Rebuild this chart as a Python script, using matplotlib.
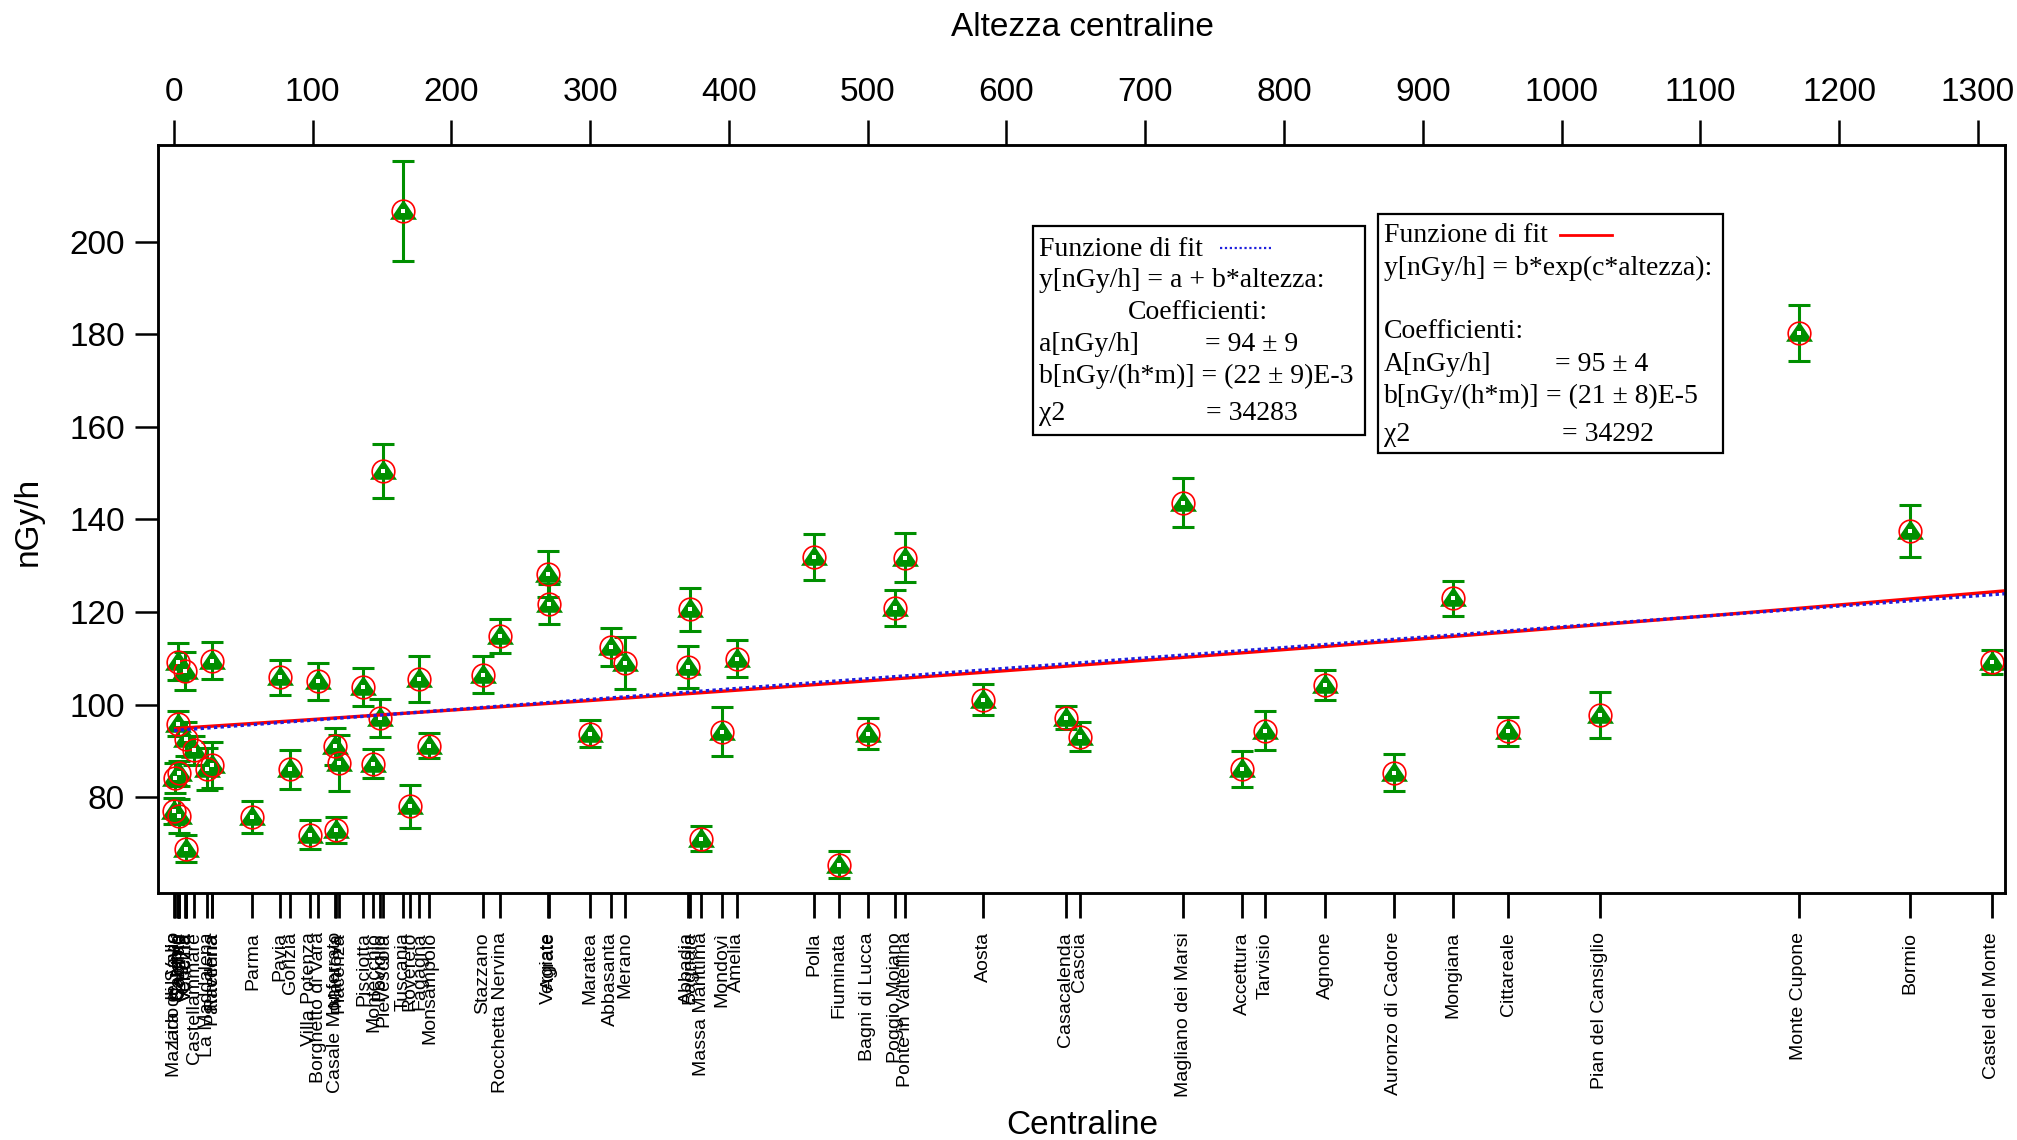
#!/usr/bin/env python3

"""
Dose rate (nGy/h) measured at each station versus station altitude,
with the linear and exponential fits.
"""

import numpy as np
import matplotlib.pyplot as plt
from matplotlib.patches import Rectangle

plt.rcParams['font.family'] = ['Liberation Sans', 'DejaVu Sans']

# station, altitude [m], dose rate [nGy/h], error [nGy/h]
names = [
    'Mazara del Vallo', 'Lido di Savio', 'Catania', 'Salerno', 'Pescara',
    'Cagliari', 'Cecina', 'Trapani', 'Venezia', 'Castellammare',
    'La Maddalena', 'Ravenna', 'Pantelleria',
    'Parma', 'Pavia', 'Gorizia', 'Villa Potenza', 'Borghetto di Vara',
    'Casale Monferrato', 'Mantova', 'Piacenza', 'Pisciotta', 'Montecchio',
    'Poviglio', 'Pievescola', 'Tuscania', 'Rovereto', 'Fagagna',
    'Monsampolo', 'Stazzano', 'Rocchetta Nervina', 'Vergiate', 'Agrate',
    'Maratea', 'Abbasanta', 'Merano', 'Abbadia', 'Bagnaia',
    'Massa Marittima', 'Mondovì', 'Amelia', 'Polla', 'Fiuminata',
    'Bagni di Lucca', 'Poggio Moiano', 'Ponte in Valtellina', 'Aosta',
    'Casacalenda', 'Cascia', 'Magliano dei Marsi', 'Accettura', 'Tarvisio',
    'Agnone', 'Auronzo di Cadore', 'Mongiana', 'Cittareale',
    'Pian del Cansiglio', 'Monte Cupone', 'Bormio', 'Castel del Monte',
]
alt_m = [
    0.2, 0.9, 2.9, 3.3, 4.0, 4.0, 8.1, 8.9, 8.9, 14.8, 24.2, 27.4, 27.8,
    56.7, 76.6, 83.8, 98.0, 104.2, 116.3, 116.8, 119.2, 136.7, 143.9,
    148.7, 151.1, 165.5, 170.1, 177.0, 184.2, 222.7, 235.2, 270.0, 270.5,
    300.1, 315.0, 324.8, 370.2, 371.7, 380.1, 395.0, 405.8, 461.0, 479.0,
    500.0, 520.0, 527.0, 583.2, 642.6, 652.8, 727.5, 769.7, 786.5, 829.8,
    879.2, 921.8, 961.6, 1027.5, 1171.0, 1251.0, 1310.0,
]
dose = [
    77.0, 84.2, 95.9, 109.3, 85.2, 75.9, 107.3, 92.6, 68.9, 90.1, 86.1,
    109.5, 86.9,
    75.7, 105.9, 86.0, 71.9, 105.0, 91.0, 72.9, 87.4, 103.8, 87.2, 97.1,
    150.5, 206.6, 78.0, 105.6, 91.1, 106.5, 114.8, 128.2, 121.7, 93.7,
    112.4, 109.0, 108.1, 120.6, 71.0, 94.1, 109.9, 131.9, 65.4, 93.7,
    120.9, 131.7, 101.1, 97.2, 93.1, 143.6, 86.1, 94.4, 104.2, 85.3,
    123.0, 94.2, 97.8, 180.3, 137.5, 109.2,
]
dose_err = [
    2.9, 3.2, 2.7, 4.0, 2.7, 3.6, 4.1, 3.6, 2.9, 3.2, 4.5, 4.0, 5.0,
    3.4, 3.8, 4.2, 3.1, 4.0, 4.0, 2.9, 6.0, 4.1, 3.1, 4.2, 5.8, 10.8,
    4.6, 5.0, 2.7, 3.9, 3.7, 5.0, 4.3, 2.9, 4.1, 5.6, 4.5, 4.6, 2.7,
    5.3, 4.0, 5.0, 2.9, 3.4, 3.9, 5.3, 3.4, 2.5, 3.2, 5.3, 3.9, 4.2,
    3.2, 4.0, 3.8, 3.2, 5.0, 6.0, 5.6, 2.6,
]

# fit results (rounded values in the boxes)
LIN_A, LIN_B = 94.4, 0.0224
EXP_A, EXP_C = 94.8, 0.000207

GREEN = '#008f00'
W, H = 2017, 1140


def fx(px):
    return px / W


def fy(py):
    return 1 - py / H


def draw_points(ax, x, y, yerr):
    ax.errorbar(x, y, yerr=yerr, fmt='none', ecolor=GREEN,
                elinewidth=2.2, capsize=8.2, capthick=2.2, zorder=3)
    tri = [(0, 0.867), (-1, -0.615), (1, -0.615), (0, 0.867)]
    ax.plot(x, y, linestyle='none', marker=tri, ms=19.4,
            color=GREEN, mec=GREEN, mew=0, zorder=4)
    ax.plot(x, y, linestyle='none', marker='o', ms=16.3,
            mfc='none', mec='red', mew=1.2, zorder=5)
    ax.plot(x, y, linestyle='none', marker='s', ms=2.4,
            color='white', mew=0, zorder=6)


def draw_fits(ax):
    xs = np.linspace(min(alt_m), 1325, 300)
    ax.plot(xs, EXP_A * np.exp(EXP_C * xs), color='red', lw=2.4,
            zorder=7, solid_capstyle='butt')
    ax.plot(xs, LIN_A + LIN_B * xs, color='#1f1fdd', lw=2.4,
            linestyle=(0, (1, 1)), zorder=8)


def fit_box(fig, left, top, right, bottom, lines, sample):
    fig.add_artist(Rectangle((fx(left), fy(bottom)), fx(right - left),
                             (bottom - top) / H, transform=fig.transFigure,
                             facecolor='white', edgecolor='black', lw=1.6))
    for px, py, text in lines:
        fig.text(fx(px), fy(py), text, ha='left', va='center',
                 fontsize=20, family=['Liberation Serif', 'DejaVu Serif'])
    (x0, x1, y0), style = sample
    fig.add_artist(plt.Line2D([fx(x0), fx(x1)], [fy(y0), fy(y0)],
                              transform=fig.transFigure, **style))


def main():
    fig = plt.figure(figsize=(W / 100, H / 100), dpi=100)
    ax = fig.add_axes([fx(157.5), fy(893), fx(2005 - 157.5), (893 - 145.4) / H])

    draw_points(ax, alt_m, dose, dose_err)
    draw_fits(ax)

    ax.set_xlim(-11.7, 1319.5)
    ax.set_ylim(59.3, 220.8)
    ax.set_yticks(range(80, 201, 20))
    ax.set_xticks(alt_m)
    ax.set_xticklabels(names, rotation=90, fontsize=14)
    ax.tick_params(axis='x', direction='out', length=18, width=2, pad=10)
    ax.tick_params(axis='y', direction='out', length=16.5, width=1.8,
                   labelsize=24, pad=7)
    for spine in ax.spines.values():
        spine.set_linewidth(1.8)

    top = ax.twiny()
    top.set_xlim(ax.get_xlim())
    top.set_xticks(range(0, 1301, 100))
    top.tick_params(axis='x', direction='out', length=18, width=1.8,
                    labelsize=24, pad=9)
    for spine in top.spines.values():
        spine.set_linewidth(1.8)

    fig.text(fx(1082), fy(27), 'Altezza centraline', ha='center',
             va='center', fontsize=24)
    fig.text(fx(1082), fy(1126), 'Centraline', ha='center', va='center',
             fontsize=24)
    fig.text(fx(28), fy(521), 'nGy/h', ha='center', va='center',
             rotation=90, fontsize=24)

    fit_box(fig, 1033, 226, 1365, 435, [
        (1039, 249.6, 'Funzione di fit'),
        (1039, 280.4, 'y[nGy/h] = a + b*altezza:'),
        (1128, 312.6, 'Coefficienti:'),
        (1039, 344.8, 'a[nGy/h]'),
        (1205, 344.8, '= 94 ± 9'),
        (1039, 376.9, 'b[nGy/(h*m)] = (22 ± 9)E-3'),
        (1039, 414.0, 'χ2'),
        (1206, 414.0, '= 34283'),
    ], ((1220, 1271, 248),
        dict(color='#1f1fdd', lw=1.6, linestyle=(0, (1, 1.2)))))

    fit_box(fig, 1378, 213.5, 1722.5, 453, [
        (1384, 235.4, 'Funzione di fit'),
        (1384, 268.9, 'y[nGy/h] = b*exp(c*altezza):'),
        (1384, 331.9, 'Coefficienti:'),
        (1384, 364.1, 'A[nGy/h]'),
        (1555, 364.1, '= 95 ± 4'),
        (1384, 396.2, 'b[nGy/(h*m)]'),
        (1546, 396.2, '= (21 ± 8)E-5'),
        (1384, 434.5, 'χ2'),
        (1562, 434.5, '= 34292'),
    ], ((1560, 1612, 235), dict(color='red', lw=2)))

    fig.savefig('out.png', dpi=100)


if __name__ == '__main__':
    main()
